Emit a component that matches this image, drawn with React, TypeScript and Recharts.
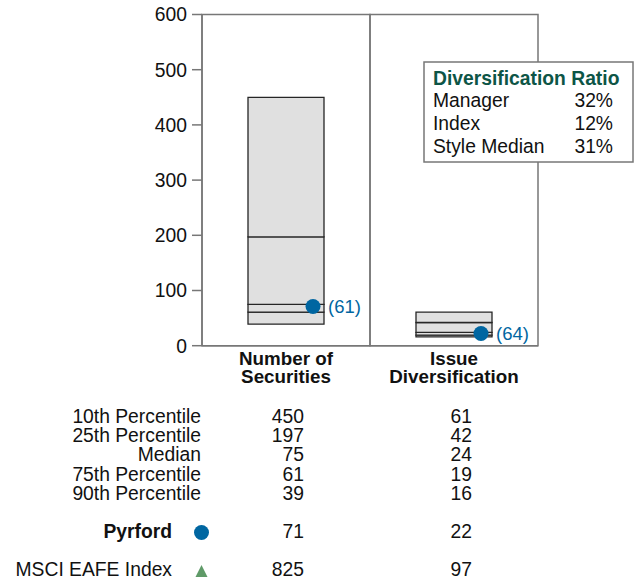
import React from 'react';
import {
  ComposedChart,
  Bar,
  Scatter,
  XAxis,
  YAxis,
  ReferenceArea,
} from 'recharts';

// Kategorien und Achsenbeschriftungen
const categories = ['Number of Securities', 'Issue Diversification'];
const categoryLines = [
  ['Number of', 'Securities'],
  ['Issue', 'Diversification'],
];
const yTicks = [0, 100, 200, 300, 400, 500, 600];

// Perzentile je Kategorie
const p10 = [450, 61];
const p25 = [197, 42];
const median = [75, 24];
const p75 = [61, 19];
const p90 = [39, 16];

// Manager und Index
const pyrford = [71, 22];
const pyrfordRank = [61, 64];
const msciIndex = [825, 97];

// Diversification Ratio Box
const ratioLabels = ['Manager', 'Index', 'Style Median'];
const ratioValues = ['32%', '12%', '31%'];

const percentileLabels = [
  '10th Percentile',
  '25th Percentile',
  'Median',
  '75th Percentile',
  '90th Percentile',
];
const percentileRows = [p10, p25, median, p75, p90];

const FONT = '"Liberation Sans", Arial, sans-serif';
const AXIS = '#777777';
const BLUE = '#0066a1';
const GREEN = '#5f9a68';
const FS = 19.3;

// gestapelte Segmente fuer die Boxen
const data = categories.map((name, i) => ({
  name,
  base: p90[i],
  s1: p75[i] - p90[i],
  s2: median[i] - p75[i],
  s3: p25[i] - median[i],
  s4: p10[i] - p25[i],
  pyrford: pyrford[i],
  rank: pyrfordRank[i],
}));

const CategoryTick = (props: any) => {
  const { x, y, index } = props;
  const lines = categoryLines[index] || [];
  return (
    <g>
      {lines.map((l, k) => (
        <text
          key={k}
          x={x}
          y={y + 11 + k * 18}
          textAnchor="middle"
          fontWeight="bold"
          fontSize={18.8}
          fill="#111"
        >
          {l}
        </text>
      ))}
    </g>
  );
};

const PyrfordDot = (props: any) => {
  const { cx, cy, payload } = props;
  if (cx == null || cy == null) return null;
  return (
    <g>
      <circle cx={cx + 27} cy={cy} r={7.5} fill={BLUE} />
      <text x={cx + 42} y={cy + 6.5} fontSize={18.5} fill={BLUE}>
        ({payload.rank})
      </text>
    </g>
  );
};

const segStyle = { fill: '#e0e0e0', stroke: '#262626', strokeWidth: 1.3 };

export default function App() {
  const rowY = [423, 442, 461, 480.5, 500];
  return (
    <div
      style={{
        position: 'absolute',
        left: 0,
        top: 0,
        width: 639,
        height: 577,
        fontFamily: FONT,
        background: '#fff',
      }}
    >
      <div style={{ position: 'absolute', left: 0, top: 0 }}>
        <ComposedChart
          width={639}
          height={400}
          data={data}
          margin={{ top: 14.5, right: 101, left: 142, bottom: 4.3 }}
          barSize={76}
        >
          <ReferenceArea
            x1={categories[0]}
            x2={categories[0]}
            y1={0}
            y2={600}
            fill="none"
            stroke={AXIS}
            strokeWidth={1.5}
          />
          <ReferenceArea
            x1={categories[1]}
            x2={categories[1]}
            y1={0}
            y2={600}
            fill="none"
            stroke={AXIS}
            strokeWidth={1.5}
          />
          <XAxis
            dataKey="name"
            height={50}
            axisLine={{ stroke: AXIS, strokeWidth: 1.5 }}
            tickLine={false}
            tick={<CategoryTick />}
            interval={0}
          />
          <YAxis
            width={60}
            domain={[0, 600]}
            ticks={yTicks}
            tickSize={10}
            tickMargin={5}
            axisLine={{ stroke: AXIS, strokeWidth: 1.5 }}
            tickLine={{ stroke: AXIS, strokeWidth: 1.5 }}
            tick={{ fill: '#111', fontSize: FS }}
          />
          <Bar dataKey="base" stackId="box" fill="transparent" isAnimationActive={false} />
          <Bar dataKey="s1" stackId="box" {...segStyle} isAnimationActive={false} />
          <Bar dataKey="s2" stackId="box" {...segStyle} isAnimationActive={false} />
          <Bar dataKey="s3" stackId="box" {...segStyle} isAnimationActive={false} />
          <Bar dataKey="s4" stackId="box" {...segStyle} isAnimationActive={false} />
          <Scatter dataKey="pyrford" shape={<PyrfordDot />} isAnimationActive={false} />
        </ComposedChart>
      </div>

      {/* Legende und Tabelle */}
      <svg
        width={639}
        height={577}
        style={{ position: 'absolute', left: 0, top: 0, fontFamily: FONT }}
      >
        <rect x={424} y={62} width={209} height={100} fill="#fff" stroke={AXIS} strokeWidth={1.5} />
        <text x={433} y={85} fontSize={FS} fontWeight="bold" fill="#0d5546">
          Diversification Ratio
        </text>
        {ratioLabels.map((l, i) => (
          <g key={l}>
            <text x={433} y={107 + i * 23} fontSize={FS} fill="#111">
              {l}
            </text>
            <text x={613} y={107 + i * 23} fontSize={FS} fill="#111" textAnchor="end">
              {ratioValues[i]}
            </text>
          </g>
        ))}

        {percentileLabels.map((l, i) => (
          <g key={l}>
            <text x={201} y={rowY[i]} fontSize={FS} fill="#111" textAnchor="end">
              {l}
            </text>
            <text x={304} y={rowY[i]} fontSize={FS} fill="#111" textAnchor="end">
              {percentileRows[i][0]}
            </text>
            <text x={472} y={rowY[i]} fontSize={FS} fill="#111" textAnchor="end">
              {percentileRows[i][1]}
            </text>
          </g>
        ))}

        <text x={172} y={538} fontSize={FS} fontWeight="bold" fill="#111" textAnchor="end">
          Pyrford
        </text>
        <circle cx={201.5} cy={532.5} r={7.5} fill={BLUE} />
        <text x={304} y={538} fontSize={FS} fill="#111" textAnchor="end">
          {pyrford[0]}
        </text>
        <text x={472} y={538} fontSize={FS} fill="#111" textAnchor="end">
          {pyrford[1]}
        </text>

        <text x={172} y={576} fontSize={FS} fill="#111" textAnchor="end">
          MSCI EAFE Index
        </text>
        <polygon points="201.5,565 207.5,577 195.5,577" fill={GREEN} />
        <text x={304} y={576} fontSize={FS} fill="#111" textAnchor="end">
          {msciIndex[0]}
        </text>
        <text x={472} y={576} fontSize={FS} fill="#111" textAnchor="end">
          {msciIndex[1]}
        </text>
      </svg>
    </div>
  );
}
